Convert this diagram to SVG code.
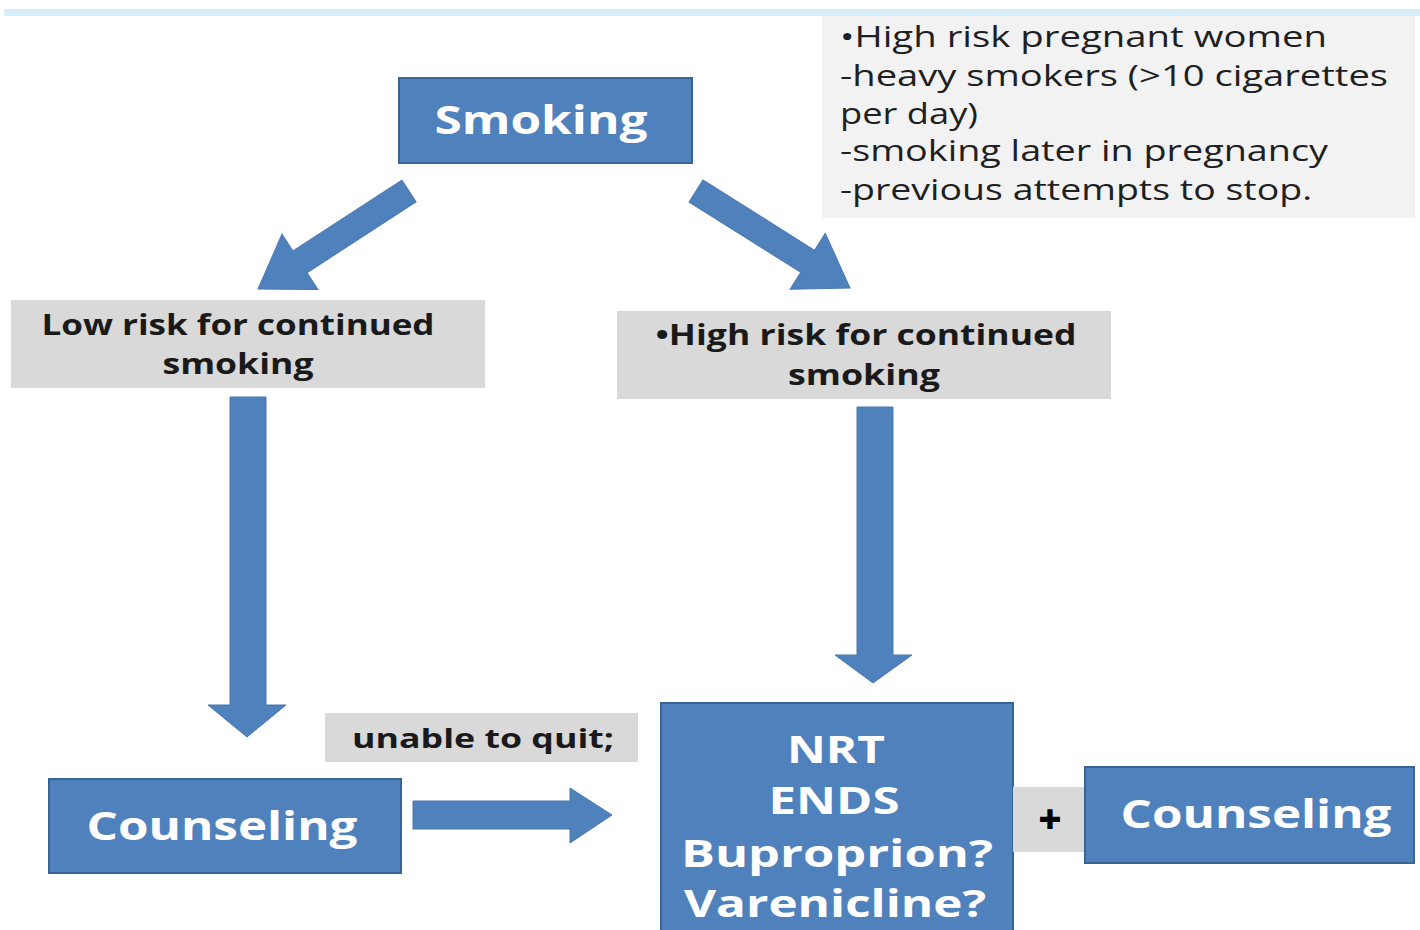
<svg xmlns="http://www.w3.org/2000/svg" width="1420" height="930" viewBox="0 0 1420 930">
<style>
.blue{fill:#4f81bd;stroke:#3a6494;stroke-width:2}
.gray{fill:#d9d9d9}
.note{fill:#f2f2f2}
.arrow{fill:#4f81bd;stroke:#4a78b0;stroke-width:1}
.wt{font-family:"Open Sans","Liberation Sans",sans-serif;font-weight:bold;fill:#ffffff;text-anchor:middle}
.dk{font-family:"Open Sans","Liberation Sans",sans-serif;font-weight:bold;fill:#1a1a1a;text-anchor:middle}
.nt{font-family:"Open Sans","Liberation Sans",sans-serif;fill:#1f1f1f;font-size:29px}
</style>
<rect width="1420" height="930" fill="#ffffff"/>
<rect x="4" y="9" width="1416" height="7" fill="#d6eefa"/>
<g id="note">
<rect class="note" x="822" y="16" width="593" height="202"/>
<text class="nt" x="840" y="47" textLength="487" lengthAdjust="spacingAndGlyphs">•High risk pregnant women</text>
<text class="nt" x="840" y="86" textLength="548" lengthAdjust="spacingAndGlyphs">-heavy smokers (&gt;10 cigarettes</text>
<text class="nt" x="840" y="124" textLength="138" lengthAdjust="spacingAndGlyphs">per day)</text>
<text class="nt" x="840" y="161" textLength="488" lengthAdjust="spacingAndGlyphs">-smoking later in pregnancy</text>
<text class="nt" x="840" y="200" textLength="472" lengthAdjust="spacingAndGlyphs">-previous attempts to stop.</text>
</g>
<g id="smoking">
<rect class="blue" x="399" y="78" width="293" height="85"/>
<text class="wt" x="541" y="134" font-size="40" textLength="213" lengthAdjust="spacingAndGlyphs">Smoking</text>
</g>
<g id="lowrisk">
<rect class="gray" x="11" y="300" width="474" height="88"/>
<text class="dk" x="238" y="335" font-size="29" textLength="393" lengthAdjust="spacingAndGlyphs">Low risk for continued</text>
<text class="dk" x="238" y="374" font-size="29" textLength="151" lengthAdjust="spacingAndGlyphs">smoking</text>
</g>
<g id="highrisk">
<rect class="gray" x="617" y="311" width="494" height="88"/>
<text class="dk" x="866" y="345" font-size="29" textLength="421" lengthAdjust="spacingAndGlyphs">•High risk for continued</text>
<text class="dk" x="864" y="385" font-size="29" textLength="152" lengthAdjust="spacingAndGlyphs">smoking</text>
</g>
<g id="unable">
<rect class="gray" x="325" y="713" width="313" height="49"/>
<text class="dk" x="483" y="748" font-size="27" textLength="262" lengthAdjust="spacingAndGlyphs">unable to quit;</text>
</g>
<g id="counseling1">
<rect class="blue" x="49" y="779" width="352" height="94"/>
<text class="wt" x="222" y="840" font-size="40" textLength="271" lengthAdjust="spacingAndGlyphs">Counseling</text>
</g>
<g id="treatment">
<rect class="blue" x="661" y="703" width="352" height="240"/>
<text class="wt" x="836" y="763" font-size="38" textLength="98" lengthAdjust="spacingAndGlyphs">NRT</text>
<text class="wt" x="834" y="814" font-size="38" textLength="131" lengthAdjust="spacingAndGlyphs">ENDS</text>
<text class="wt" x="837" y="867" font-size="38" textLength="312" lengthAdjust="spacingAndGlyphs">Buproprion?</text>
<text class="wt" x="835" y="917" font-size="38" textLength="302" lengthAdjust="spacingAndGlyphs">Varenicline?</text>
</g>
<g id="plus">
<rect class="gray" x="1013" y="787" width="72" height="65"/>
<text class="dk" x="1050" y="834" style="font-size:40px;font-weight:900;fill:#000000">+</text>
</g>
<g id="counseling2">
<rect class="blue" x="1085" y="767" width="329" height="96"/>
<text class="wt" x="1256" y="828" font-size="40" textLength="271" lengthAdjust="spacingAndGlyphs">Counseling</text>
</g>
<g id="connectors">
<polygon class="arrow" transform="translate(409,191) rotate(147)" points="0,-13 130,-13 130,-33 180,0 130,33 130,13 0,13"/>
<polygon class="arrow" transform="translate(696,191) rotate(32.2)" points="0,-13 132,-13 132,-33 182,0 132,33 132,13 0,13"/>
<polygon class="arrow" points="230,397 266,397 266,705 286,705 247,737 208,705 230,705"/>
<polygon class="arrow" points="857,407 893,407 893,655 912,655 873,683 835,655 857,655"/>
<polygon class="arrow" points="413,801 570,801 570,788 612,815 570,843 570,829 413,829"/>
</g>
</svg>
